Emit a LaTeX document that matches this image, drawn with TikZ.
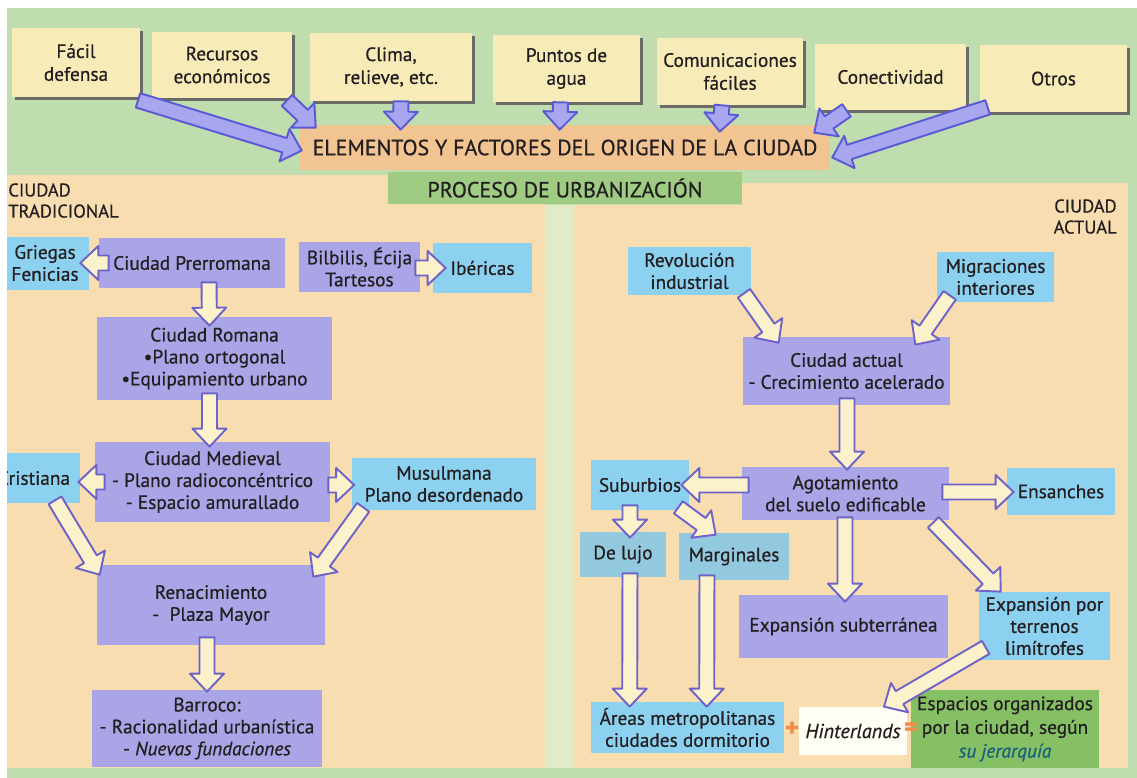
\documentclass[tikz,border=0pt]{standalone}
\usepackage{fontspec}
\setmainfont{PT Sans}[FakeBold=0.6]
\usetikzlibrary{calc,shadows}

\definecolor{cfondo}{HTML}{BFDDAE}
\definecolor{cbeige}{HTML}{F7DDB0}
\definecolor{cbanda}{HTML}{E2EBC9}
\definecolor{ccrema}{HTML}{F7ECB8}
\definecolor{csombra}{HTML}{6A6A66}
\definecolor{csalmon}{HTML}{F2C492}
\definecolor{cverde}{HTML}{9FCB83}
\definecolor{cmorado}{HTML}{A9A5E6}
\definecolor{cazul}{HTML}{8DD1F0}
\definecolor{cazul2}{HTML}{93C9DF}
\definecolor{cespacio}{HTML}{86C065}
\definecolor{cpaja}{HTML}{FBF2CB}
\definecolor{cborde}{HTML}{6F63C9}
\definecolor{cvioleta}{HTML}{A8A6EE}
\definecolor{cborde2}{HTML}{5B5AD6}
\definecolor{ctinta}{HTML}{231F20}
\definecolor{cnaranja}{HTML}{F08A4B}
\definecolor{cjer}{HTML}{1A5F7A}

% flecha de bloque: [estilo]{desde}{hasta}
\newcommand{\flecha}[3][]{%
  \path (#2) coordinate (fa) (#3) coordinate (fb);
  \path ($(fb)!0.36cm!(fa)$) coordinate (fc);
  \filldraw[#1] ($(fa)!0.15cm!90:(fb)$) -- ($(fc)!0.15cm!90:(fb)$)
    -- ($(fc)!0.34cm!90:(fb)$) -- (fb) -- ($(fc)!0.34cm!-90:(fb)$)
    -- ($(fc)!0.15cm!-90:(fb)$) -- ($(fa)!0.15cm!-90:(fb)$) -- cycle;
}

\begin{document}
\begin{tikzpicture}[x=0.02cm, y=-0.02cm,
    caja/.style={fill=ccrema, drop shadow={shadow xshift=0.06cm, shadow yshift=-0.06cm, fill=csombra, opacity=1},
      align=center, inner sep=1pt, text=ctinta, font=\fontsize{11}{13}\selectfont},
    morado/.style={fill=cmorado, align=center, inner sep=1pt, text=ctinta, font=\fontsize{11}{12.5}\selectfont},
    azul/.style={morado, fill=cazul},
    gris/.style={morado, fill=cazul2},
    hueca/.style={fill=cpaja, draw=cborde, line width=1.1pt, line join=round},
    llena/.style={fill=cvioleta, draw=cborde2, line width=1.1pt, line join=round}]

    \useasboundingbox (0,0) rectangle (1137,778);
    \fill[white] (0,0) rectangle (1137,778);

    \begin{scope}
    \clip (7,8) rectangle (1137,778);
    % fondos
    \fill[cfondo] (7,8) rectangle (1137,778);
    \fill[cbeige] (7,175) rectangle (545,768);
    \fill[cbeige] (573,205) rectangle (1128,768);
    \fill[cbeige] (742,183) rectangle (1128,205);
    \fill[cbanda] (545,205) rectangle (573,768);

    % factores
    \node[caja, minimum width=2.56cm, minimum height=1.38cm] (fac) at (76,62.5) {Fácil\\defensa};
    \node[caja, minimum width=2.80cm, minimum height=1.32cm] (rec) at (222,65) {Recursos\\económicos};
    \node[caja, minimum width=3.24cm, minimum height=1.36cm] (cli) at (391,67) {Clima,\\relieve, etc.};
    \node[caja, minimum width=2.94cm, minimum height=1.34cm] (pun) at (566.5,68.5) {Puntos de\\agua};
    \node[caja, minimum width=2.94cm, minimum height=1.34cm] (com) at (730,71.5) {Comunicaciones\\fáciles};
    \node[caja, minimum width=3.02cm, minimum height=1.32cm] (con) at (890.5,77) {Conectividad};
    \node[caja, minimum width=2.94cm, minimum height=1.34cm] (otr) at (1053.5,78.5) {Otros};

    \node[fill=csalmon, minimum width=10.6cm, minimum height=0.9cm, text=ctinta,
      font=\fontsize{12.5}{14}\selectfont] (ele) at (565,147.5) {ELEMENTOS Y FACTORES DEL ORIGEN DE LA CIUDAD};
    \node[fill=cverde, minimum width=7.08cm, minimum height=0.64cm, text=ctinta,
      font=\fontsize{12.5}{14}\selectfont] (pro) at (565,188) {PROCESO DE URBANIZACIÓN};

    \node[anchor=north west, align=left, inner sep=0, text=ctinta, font=\fontsize{10.5}{12}\selectfont]
      (tra) at (8,183) {CIUDAD\\TRADICIONAL};
    \node[anchor=north east, align=right, inner sep=0, text=ctinta, font=\fontsize{10.5}{12}\selectfont]
      (actu) at (1117,199) {CIUDAD\\ACTUAL};

    % ciudad tradicional
    \node[azul, minimum width=1.76cm, minimum height=1.06cm] (gri) at (45,263) {Griegas\\Fenicias};
    \node[morado, minimum width=3.72cm, minimum height=1.0cm] (pre) at (192,263) {Ciudad Prerromana};
    \node[morado, minimum width=2.42cm, minimum height=1.0cm] (bil) at (359.5,267) {Bilbilis, Écija\\Tartesos};
    \node[azul, minimum width=1.98cm, minimum height=1.0cm] (ibe) at (482.5,268) {Ibéricas};
    \node[morado, minimum width=4.70cm, minimum height=1.66cm] (rom) at (214.5,358.5)
      {Ciudad Romana\\•Plano ortogonal\\•Equipamiento urbano};
    \node[morado, minimum width=4.70cm, minimum height=1.60cm] (med) at (212.5,482)
      {Ciudad Medieval\\- Plano radioconcéntrico\\- Espacio amurallado};
    \node[azul, minimum width=1.84cm, minimum height=1.0cm] (cri) at (34,478) {Cristiana};
    \node[azul, minimum width=3.70cm, minimum height=1.04cm] (mus) at (444,484) {Musulmana\\Plano desordenado};
    \node[morado, minimum width=4.56cm, minimum height=1.60cm] (ren) at (211,605) {Renacimiento\\-\ \ Plaza Mayor};
    \node[morado, minimum width=4.60cm, minimum height=1.54cm] (bar) at (207,728.5)
      {Barroco:\\- Racionalidad urbanística\\- \textit{Nuevas fundaciones}};

    % ciudad actual
    \node[azul, minimum width=2.46cm, minimum height=0.96cm] (rev) at (689.5,271) {Revolución\\industrial};
    \node[azul, minimum width=2.34cm, minimum height=1.0cm] (mig) at (995.5,277) {Migraciones\\interiores};
    \node[morado, minimum width=4.14cm, minimum height=1.36cm] (act) at (846.5,371) {Ciudad actual\\- Crecimiento acelerado};
    \node[morado, minimum width=4.14cm, minimum height=1.06cm] (ago) at (845.5,493.5) {Agotamiento\\del suelo edificable};
    \node[azul, minimum width=1.96cm, minimum height=1.0cm] (sub) at (640,485) {Suburbios};
    \node[azul, minimum width=2.16cm, minimum height=0.94cm] (ens) at (1061,491.5) {Ensanches};
    \node[gris, minimum width=1.72cm, minimum height=0.9cm] (luj) at (623,554.5) {De lujo};
    \node[gris, minimum width=2.20cm, minimum height=0.94cm] (mar) at (734,556.5) {Marginales};
    \node[morado, minimum width=4.18cm, minimum height=1.26cm] (exs) at (843.5,626.5) {Expansión subterránea};
    \node[azul, minimum width=2.62cm, minimum height=1.36cm] (ter) at (1044.5,626) {Expansión por\\terrenos\\limítrofes};
    \node[azul, minimum width=3.86cm, minimum height=1.02cm] (are) at (687.5,727.5) {Áreas metropolitanas\\ciudades dormitorio};
    \node[morado, fill=white!96!yellow, minimum width=2.16cm, minimum height=0.96cm, font=\fontsize{11.5}{13}\selectfont\itshape]
      (hin) at (853,731) {Hinterlands};
    \node[morado, fill=cespacio, minimum width=3.76cm, minimum height=1.56cm, font=\fontsize{11}{13.5}\selectfont] (esp) at (1005,729)
      {Espacios organizados\\por la ciudad, según\\{\color{cjer}\itshape su jerarquía}};
    \node[text=cnaranja, inner sep=0, font=\fontsize{15}{15}\selectfont\bfseries] (mas) at (792,729) {+};
    \node[text=cnaranja, inner sep=0, font=\fontsize{15}{15}\selectfont\bfseries] (igu) at (911,729) {=};

    % flechas de los factores
    \flecha[llena]{$(fac.south)+(62,3)$}{$(ele.west)+(2,3)$}
    \flecha[llena]{$(rec.south)+(65,2)$}{$(ele.north west)+(16,3)$}
    \flecha[llena]{$(cli.south)+(10,0)$}{$(ele.north west)+(101,5)$}
    \flecha[llena]{$(pun.south)+(-6,0)$}{$(ele.north west)+(260,5)$}
    \flecha[llena]{$(com.south)+(-8,0)$}{$(ele.north west)+(420,7)$}
    \flecha[llena]{$(con.south)+(-44,0)$}{$(ele.north east)+(-16,8)$}
    \flecha[llena]{$(otr.south west)+(8,-5)$}{$(ele.east)+(2,10)$}

    % flechas ciudad tradicional
    \flecha[hueca]{$(pre.west)+(10,0)$}{$(gri.east)+(-9,0)$}
    \flecha[hueca]{$(bil.east)+(-5,1)$}{$(ibe.west)+(13,0)$}
    \flecha[hueca]{$(pre.south)+(17,-6)$}{$(rom.north)+(-5,9)$}
    \flecha[hueca]{$(rom.south)+(-5,-7)$}{$(med.north)+(-3,5)$}
    \flecha[hueca]{$(med.west)+(10,0)$}{$(cri.east)+(-2,4)$}
    \flecha[hueca]{$(med.east)+(-2,3)$}{$(mus.west)+(3,1)$}
    \flecha[hueca]{$(cri.south)+(21,-3)$}{$(ren.north west)+(3,10)$}
    \flecha[hueca]{$(mus.south west)+(12,-3)$}{$(ren.north east)+(-12,12)$}
    \flecha[hueca]{$(ren.south)+(-4,-8)$}{$(bar.north)+(0,2)$}

    % flechas ciudad actual
    \flecha[hueca]{$(rev.south)+(54.5,-2)$}{$(act.north west)+(36,6)$}
    \flecha[hueca]{$(mig.south west)+(13,-7)$}{$(act.north east)+(-35,8)$}
    \flecha[hueca]{$(act.south)+(0.5,-7)$}{$(ago.north)+(1.5,3)$}
    \flecha[hueca]{$(ago.west)+(7,-8.5)$}{$(sub.east)+(-8,0)$}
    \flecha[hueca]{$(ago.east)+(-7,-1.5)$}{$(ens.west)+(7,0.5)$}
    \flecha[hueca]{$(sub.south)+(-10,-5)$}{$(luj.north)+(7,6)$}
    \flecha[hueca]{$(sub.south east)+(-11,-3)$}{$(mar.north west)+(37,2)$}
    \flecha[hueca]{$(ago.south)+(-0.5,-3)$}{$(exs.north)+(1.5,7)$}
    \flecha[hueca]{$(ago.south east)+(-16,2)$}{$(ter.north west)+(22,0)$}
    \flecha[hueca]{$(luj.south)+(7,-4)$}{$(are.north west)+(39,5)$}
    \flecha[hueca]{$(mar.south)+(-27,-5)$}{$(are.north west)+(116,5)$}
    \flecha[hueca]{$(ter.south west)+(7,-13)$}{$(hin.north)+(31,0)$}
    \end{scope}
\end{tikzpicture}
\end{document}
